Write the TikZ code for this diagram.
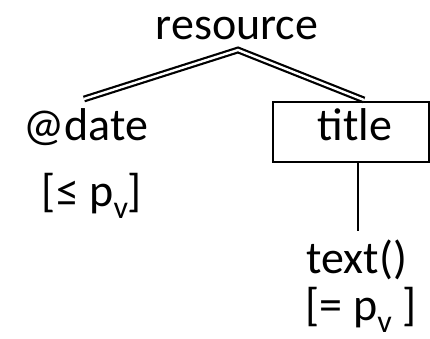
\documentclass[tikz,border=0pt]{standalone}
\usepackage{fontspec}
\setmainfont{Carlito}
\newcommand{\subv}{\raisebox{-12pt}{\fontsize{32}{32}\selectfont v}}
\begin{document}
\begin{tikzpicture}[x=1pt,y=-1pt,
  lbl/.style={inner sep=0pt,anchor=base,font=\fontsize{46}{50}\selectfont},
  box/.style={draw,line width=2pt,minimum width=156pt,minimum height=60pt,inner sep=0pt},
  dbl/.style={double,line width=2.2pt,double distance=2.4pt},
  edge/.style={line width=2.5pt}]
\useasboundingbox (0,0) rectangle (430,339);
\node[lbl] (res) at (237,40) {resource};
\node[lbl] (date) at (86,140) {@date};
\node[box] (titlebox) at (351,132) {};
\node[lbl] (title) at (355,140) {title};
\node[lbl] (dcond) at (92,206) {[≤ p\subv]};
\node[lbl] (txt) at (357,273) {text()};
\node[lbl] (tcond) at (361,320) {[= p\subv\ ]};
\coordinate (apex) at (238,50);
\coordinate (dtop) at (84,99);
\coordinate (ttop) at (364,100);
\coordinate (tb) at (358,162);
\coordinate (txttop) at (358,231);
\draw[dbl] (dtop) -- (apex) -- (ttop);
\draw[edge] (tb) -- (txttop);
\end{tikzpicture}
\end{document}
